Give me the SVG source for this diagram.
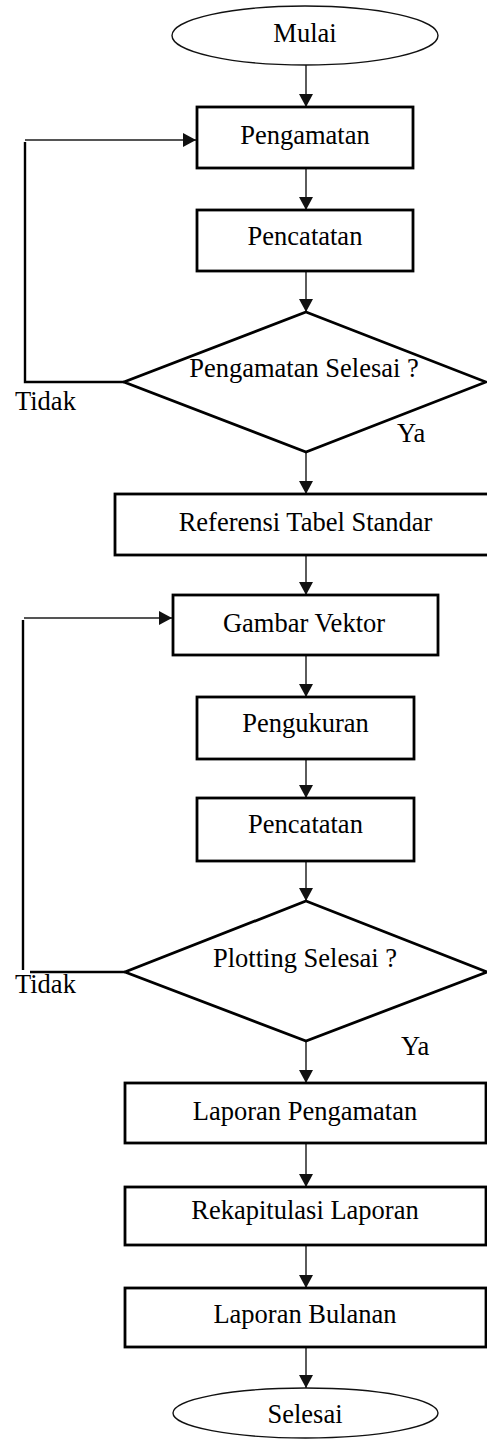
<svg xmlns="http://www.w3.org/2000/svg" width="487" height="1441" viewBox="0 0 487 1441">
  <defs>
    <marker id="arrow" markerWidth="13" markerHeight="14" refX="13" refY="7" orient="auto" markerUnits="userSpaceOnUse" viewBox="0 0 13 14">
      <path d="M0,0 L13,7 L0,14 Z" fill="#111"/>
    </marker>
    <marker id="arrowDown" markerWidth="14" markerHeight="13" refX="7" refY="13" orient="0" markerUnits="userSpaceOnUse" viewBox="0 0 14 13">
      <path d="M0,0 L14,0 L7,13 Z" fill="#111"/>
    </marker>
  </defs>
  <style>
    .box { fill: #fff; stroke: #000; stroke-width: 2.8; }
    .term { fill: #fff; stroke: #111; stroke-width: 1.4; }
    .dec { fill: #fff; stroke: #000; stroke-width: 2.8; stroke-linejoin: miter; }
    .lbl { font-family: "Liberation Serif", "Times New Roman", serif; font-size: 26.5px; fill: #000; }
    .c { text-anchor: middle; }
    .flow { fill: none; stroke: #333; stroke-width: 1.6; }
    .loop { fill: none; stroke: #000; stroke-width: 2.4; }
    .loopIn { fill: none; stroke: #555; stroke-width: 2.2; }
  </style>

  <rect width="487" height="1441" fill="#fff"/>

  <!-- connectors -->
  <g id="connectors">
    <line class="flow" x1="306" y1="65" x2="306" y2="107" marker-end="url(#arrowDown)"/>
    <line class="flow" x1="306" y1="168" x2="306" y2="210" marker-end="url(#arrowDown)"/>
    <line class="flow" x1="306" y1="271" x2="306" y2="312" marker-end="url(#arrowDown)"/>
    <line class="flow" x1="306" y1="452" x2="306" y2="494" marker-end="url(#arrowDown)"/>
    <line class="flow" x1="306" y1="555" x2="306" y2="595" marker-end="url(#arrowDown)"/>
    <line class="flow" x1="306" y1="655" x2="306" y2="697" marker-end="url(#arrowDown)"/>
    <line class="flow" x1="306" y1="759" x2="306" y2="798" marker-end="url(#arrowDown)"/>
    <line class="flow" x1="306" y1="861" x2="306" y2="901" marker-end="url(#arrowDown)"/>
    <line class="flow" x1="306" y1="1041" x2="306" y2="1083" marker-end="url(#arrowDown)"/>
    <line class="flow" x1="306" y1="1143" x2="306" y2="1187" marker-end="url(#arrowDown)"/>
    <line class="flow" x1="306" y1="1245" x2="306" y2="1288" marker-end="url(#arrowDown)"/>
    <line class="flow" x1="306" y1="1347" x2="306" y2="1388" marker-end="url(#arrowDown)"/>

    <!-- return loop: Pengamatan Selesai ? (Tidak) back to Pengamatan -->
    <polyline class="loop" points="124,382 25,382 25,142"/>
    <line class="loopIn" x1="25" y1="140" x2="196" y2="140" marker-end="url(#arrow)"/>

    <!-- return loop: Plotting Selesai ? (Tidak) back to Gambar Vektor -->
    <polyline class="loop" points="125,972 30,972"/>
    <line class="loop" x1="23" y1="970" x2="23" y2="620"/>
    <line class="loopIn" x1="24" y1="618" x2="172" y2="618" marker-end="url(#arrow)"/>
  </g>

  <!-- nodes -->
  <g id="mulai">
    <ellipse class="term" cx="305" cy="35.5" rx="133" ry="29.5"/>
    <text class="lbl c" x="305" y="42">Mulai</text>
  </g>
  <g id="pengamatan">
    <rect class="box" x="197" y="107" width="216" height="61"/>
    <text class="lbl c" x="305" y="144">Pengamatan</text>
  </g>
  <g id="pencatatan1">
    <rect class="box" x="197" y="210" width="216" height="61"/>
    <text class="lbl c" x="305" y="245">Pencatatan</text>
  </g>
  <g id="keputusan-pengamatan">
    <polygon class="dec" points="306,312 486,382 306,452 124,382"/>
    <text class="lbl c" x="304" y="377">Pengamatan Selesai ?</text>
    <text class="lbl" x="15" y="410">Tidak</text>
    <text class="lbl" x="397" y="442">Ya</text>
  </g>
  <g id="referensi">
    <rect class="box" x="115" y="494" width="374" height="61"/>
    <text class="lbl c" x="305.5" y="531">Referensi Tabel Standar</text>
  </g>
  <g id="gambar-vektor">
    <rect class="box" x="173" y="595" width="265" height="60"/>
    <text class="lbl c" x="304" y="632">Gambar Vektor</text>
  </g>
  <g id="pengukuran">
    <rect class="box" x="197" y="697" width="217" height="62"/>
    <text class="lbl c" x="305.5" y="732">Pengukuran</text>
  </g>
  <g id="pencatatan2">
    <rect class="box" x="197" y="798" width="217" height="63"/>
    <text class="lbl c" x="305.5" y="833">Pencatatan</text>
  </g>
  <g id="keputusan-plotting">
    <polygon class="dec" points="306,901 487,972 306,1041 125,972"/>
    <text class="lbl c" x="305" y="967">Plotting Selesai ?</text>
    <text class="lbl" x="15" y="993">Tidak</text>
    <text class="lbl" x="401" y="1055">Ya</text>
  </g>
  <g id="laporan-pengamatan">
    <rect class="box" x="125" y="1083" width="361" height="60"/>
    <text class="lbl c" x="305" y="1120">Laporan Pengamatan</text>
  </g>
  <g id="rekapitulasi">
    <rect class="box" x="125" y="1187" width="361" height="58"/>
    <text class="lbl c" x="305" y="1219">Rekapitulasi Laporan</text>
  </g>
  <g id="laporan-bulanan">
    <rect class="box" x="125" y="1288" width="361" height="59"/>
    <text class="lbl c" x="305" y="1323">Laporan Bulanan</text>
  </g>
  <g id="selesai">
    <ellipse class="term" cx="305.5" cy="1413" rx="132.5" ry="25"/>
    <text class="lbl c" x="305" y="1423">Selesai</text>
  </g>
</svg>
